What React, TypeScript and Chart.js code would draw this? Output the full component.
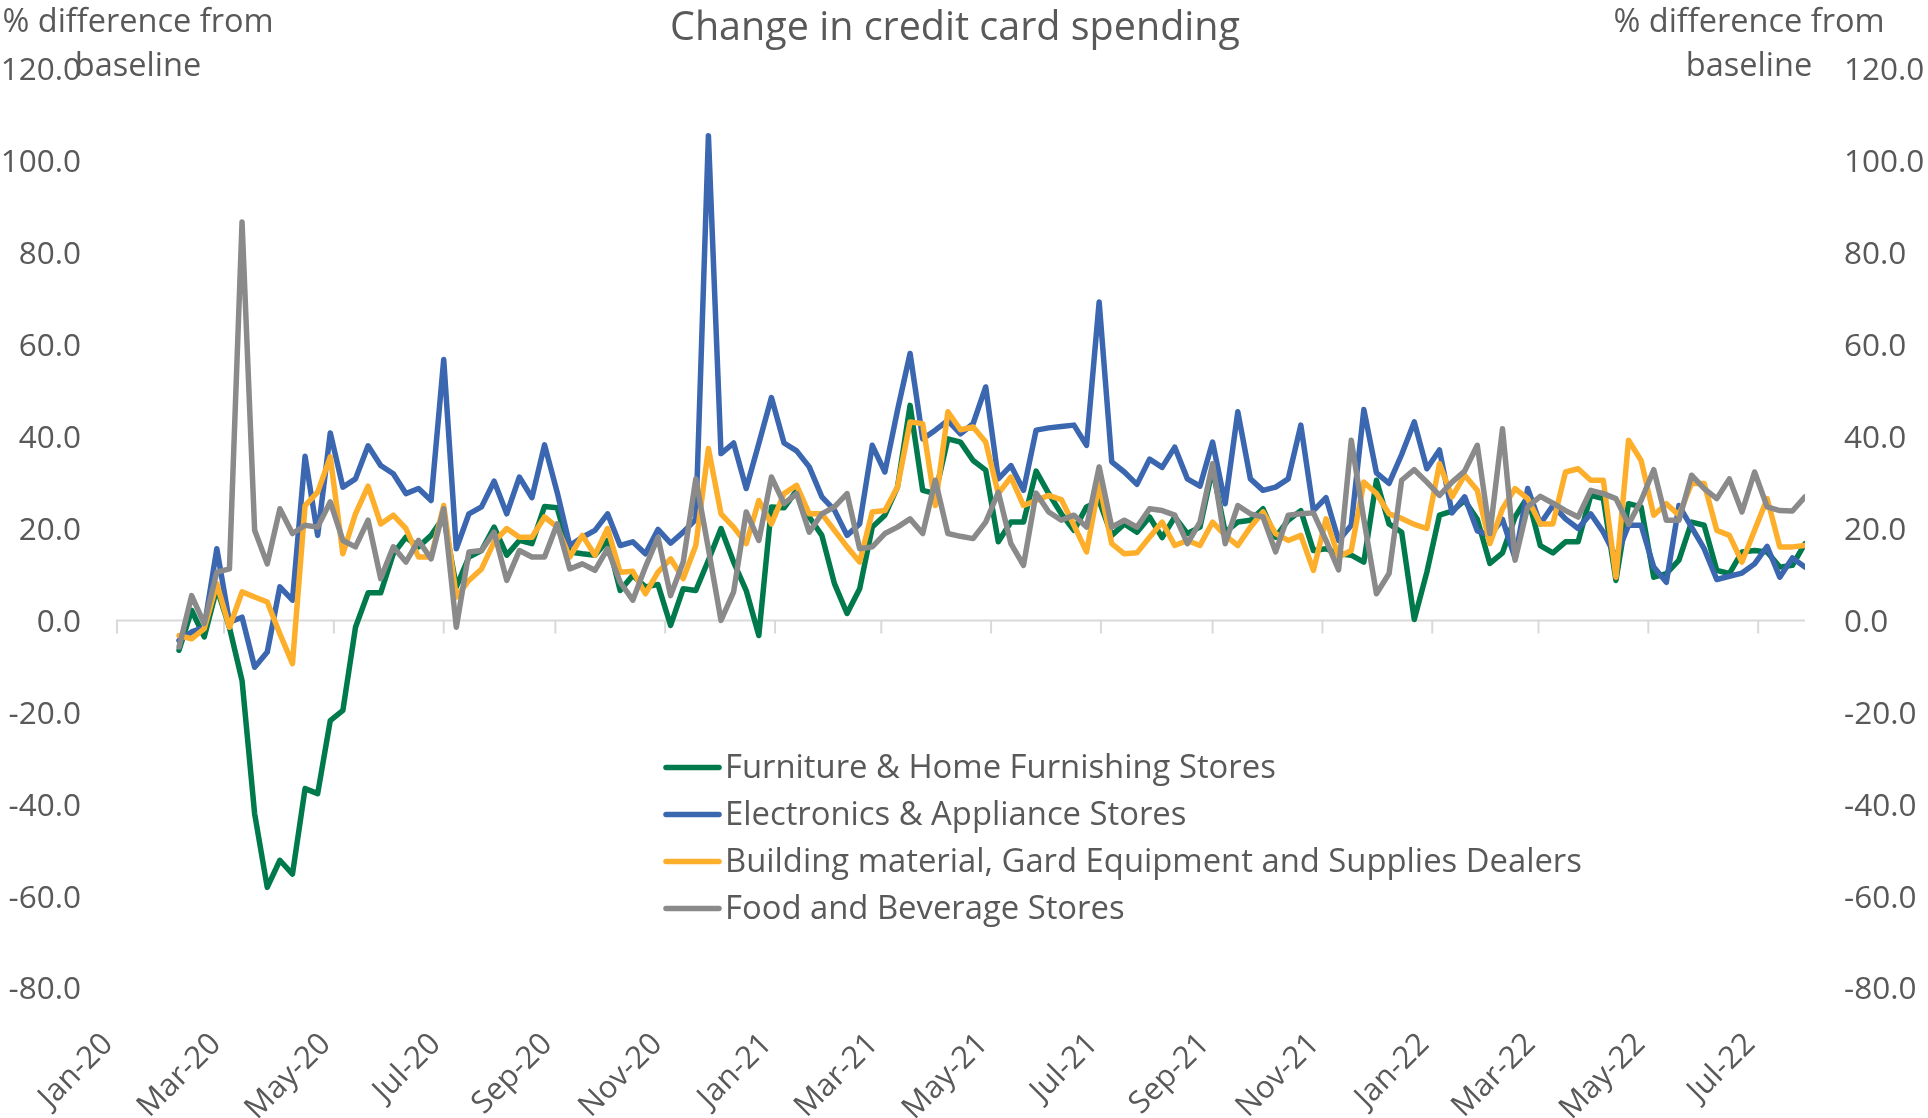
import { useEffect, useRef } from "react";
import { Chart, registerables } from "chart.js";

Chart.register(...registerables);

const TITLE = "Change in credit card spending";
const AXIS_TITLE = ["% difference from", "baseline"];
const FIRST_WEEK = "2020-02-05";
const AXIS_START = "2020-01-01";

const X_TICK_DATES = [
  "2020-01-01", "2020-03-01", "2020-05-01", "2020-07-01", "2020-09-01", "2020-11-01",
  "2021-01-01", "2021-03-01", "2021-05-01", "2021-07-01", "2021-09-01", "2021-11-01",
  "2022-01-01", "2022-03-01", "2022-05-01", "2022-07-01",
];
const X_TICK_LABELS = [
  "Jan-20", "Mar-20", "May-20", "Jul-20", "Sep-20", "Nov-20",
  "Jan-21", "Mar-21", "May-21", "Jul-21", "Sep-21", "Nov-21",
  "Jan-22", "Mar-22", "May-22", "Jul-22",
];
const Y_MIN = -80;
const Y_MAX = 120;
const Y_STEP = 20;

const SERIES_NAMES = [
  "Furniture & Home Furnishing Stores",
  "Electronics & Appliance Stores",
  "Building material, Gard Equipment and Supplies Dealers",
  "Food and Beverage Stores",
];
const SERIES_COLORS = ["#007A4D", "#3B66B0", "#FDAF2B", "#8A8A8A"];

const furniture = [
  -6.5, 2.2, -3.6, 7.0, -1.5, -13.1, -42.1, -58.1, -52.2, -55.2,
  -36.6, -37.7, -21.8, -19.6, -1.5, 6.0, 6.0, 14.5, 18.1, 16.0,
  18.5, 22.5, 7.3, 13.8, 15.2, 20.3, 14.2, 17.4, 16.7, 24.8,
  24.5, 14.9, 14.5, 14.2, 17.4, 6.5, 9.8, 7.3, 7.8, -1.1,
  6.9, 6.5, 13.1, 20.0, 12.7, 6.5, -3.3, 24.7, 24.5, 28.3,
  22.5, 18.5, 8.0, 1.5, 6.9, 20.3, 22.9, 29.0, 46.8, 28.3,
  27.6, 39.5, 38.8, 34.8, 32.7, 17.1, 21.4, 21.4, 32.5, 27.6,
  23.2, 19.6, 24.7, 26.0, 18.5, 21.0, 19.2, 22.5, 18.0, 22.5,
  18.9, 20.3, 33.0, 19.2, 21.4, 21.8, 24.3, 18.1, 21.8, 23.9,
  15.2, 15.6, 14.5, 14.2, 12.7, 30.5, 21.0, 19.2, 0.2, 10.5,
  22.9, 23.8, 26.1, 22.0, 12.4, 14.7, 22.5, 26.9, 16.3, 14.7,
  17.1, 17.1, 27.2, 26.5, 8.7, 25.4, 24.7, 9.4, 10.2, 13.1,
  21.4, 20.7, 10.9, 10.2, 14.9, 15.2, 14.9, 11.6, 12.0, 16.7,
];

const electronics = [
  -4.4, -2.5, -1.5, 15.6, -0.4, 0.7, -10.2, -6.9, 7.3, 4.4,
  35.7, 18.5, 40.8, 29.0, 30.8, 38.0, 33.7, 31.9, 27.6, 28.7,
  26.1, 56.8, 15.6, 23.2, 24.7, 30.3, 23.2, 31.2, 26.7, 38.2,
  27.9, 16.3, 18.1, 19.6, 23.2, 16.3, 17.1, 14.5, 19.8, 16.8,
  19.2, 22.0, 105.5, 36.3, 38.6, 28.7, 38.5, 48.5, 38.6, 36.9,
  33.4, 26.9, 24.0, 18.5, 21.0, 38.1, 32.3, 45.7, 58.1, 39.5,
  41.4, 43.5, 40.6, 42.8, 50.8, 30.8, 33.7, 28.3, 41.4, 41.9,
  42.2, 42.5, 38.1, 69.3, 34.5, 32.3, 29.6, 35.1, 33.3, 37.7,
  30.8, 29.2, 38.8, 25.4, 45.4, 30.8, 28.3, 29.0, 30.8, 42.5,
  23.9, 26.7, 17.4, 20.7, 45.9, 32.1, 29.8, 36.1, 43.2, 33.0,
  37.1, 23.4, 26.9, 19.5, 18.5, 22.0, 13.5, 28.7, 21.0, 25.0,
  22.1, 20.0, 23.2, 19.2, 13.8, 20.7, 20.7, 11.6, 8.3, 25.0,
  20.3, 15.6, 8.9, 9.6, 10.3, 12.3, 16.1, 9.4, 13.6, 11.6,
];

const building = [
  -3.3, -4.0, -1.8, 8.0, -1.5, 6.2, 5.1, 4.0, -2.9, -9.4,
  25.0, 27.9, 35.6, 14.5, 23.2, 29.2, 21.0, 22.9, 20.0, 13.8,
  13.8, 25.0, 5.1, 8.7, 11.2, 17.1, 20.0, 18.1, 18.1, 22.5,
  20.3, 13.8, 18.5, 14.2, 20.0, 10.5, 10.7, 5.8, 10.5, 13.4,
  9.1, 16.3, 37.4, 23.2, 20.3, 16.7, 26.1, 21.0, 27.6, 29.4,
  23.2, 23.2, 19.6, 16.0, 12.7, 23.6, 23.9, 29.0, 43.2, 42.8,
  25.0, 45.4, 41.5, 42.1, 38.8, 27.6, 31.2, 25.0, 26.1, 27.2,
  26.3, 20.7, 14.9, 29.8, 16.7, 14.5, 14.7, 18.1, 21.4, 16.3,
  17.4, 16.3, 21.4, 18.5, 16.3, 20.3, 23.6, 18.9, 17.4, 18.5,
  10.9, 22.1, 13.8, 15.2, 30.1, 27.6, 23.2, 22.2, 20.9, 20.0,
  34.1, 26.9, 31.6, 28.3, 16.7, 24.3, 28.7, 26.5, 21.0, 21.0,
  32.3, 33.0, 30.5, 30.5, 9.4, 39.2, 34.8, 22.9, 25.4, 22.9,
  29.8, 29.8, 19.6, 18.5, 12.7, 19.6, 26.5, 16.0, 16.0, 16.3,
];

const food = [
  -5.8, 5.4, -0.7, 10.5, 11.2, 86.7, 19.6, 12.3, 24.3, 18.9,
  20.7, 20.3, 25.8, 17.4, 16.0, 21.8, 9.1, 16.0, 12.7, 17.4,
  13.4, 24.3, -1.5, 14.9, 15.2, 19.2, 8.7, 15.2, 13.8, 13.8,
  21.0, 11.2, 12.3, 10.9, 15.6, 8.3, 4.4, 11.6, 18.1, 5.4,
  12.7, 30.8, 15.6, 0.0, 6.2, 23.6, 17.4, 31.2, 25.4, 27.6,
  19.2, 23.2, 24.7, 27.6, 15.6, 16.0, 18.9, 20.3, 22.1, 18.9,
  30.5, 18.9, 18.3, 17.8, 21.4, 27.9, 16.7, 12.0, 27.7, 23.6,
  21.8, 22.9, 20.3, 33.4, 20.3, 21.8, 20.3, 24.3, 23.9, 22.9,
  16.7, 21.4, 34.1, 16.7, 25.0, 23.2, 22.5, 14.9, 22.9, 23.2,
  23.4, 17.4, 11.0, 39.2, 22.0, 5.8, 10.2, 30.5, 32.8, 30.1,
  27.2, 30.1, 32.5, 38.1, 18.9, 41.7, 13.1, 24.7, 27.0, 25.5,
  23.9, 22.5, 28.3, 27.6, 26.5, 20.9, 26.1, 32.8, 21.8, 21.8,
  31.6, 28.7, 26.5, 30.8, 23.6, 32.3, 24.7, 23.9, 23.8, 26.9,
];

const SERIES = [furniture, electronics, building, food];

const FONT = "'Open Sans', 'Noto Sans', sans-serif";
const TEXT_COLOR = "#595959";
const AXIS_COLOR = "#D9D9D9";
const LINE_WIDTH = 5.5;

const dayOf = (d: string) => Math.round((Date.parse(d) - Date.parse(AXIS_START)) / 86400000);
const firstDay = dayOf(FIRST_WEEK);
const weekDays = (n: number) => Array.from({ length: n }, (_, i) => firstDay + 7 * i);

const decor = {
  id: "decor",
  beforeDatasetsDraw(chart: any) {
    const { ctx, scales } = chart;
    const x = scales.x;
    const y = scales.y;
    const y0 = y.getPixelForValue(0);
    ctx.save();
    ctx.strokeStyle = AXIS_COLOR;
    ctx.lineWidth = 2;
    ctx.beginPath();
    ctx.moveTo(x.left, y0);
    ctx.lineTo(x.right, y0);
    x.ticks.forEach((t: any) => {
      const px = Math.max(x.left + 1, x.getPixelForValue(t.value));
      ctx.moveTo(px, y0);
      ctx.lineTo(px, y0 + 13);
    });
    ctx.stroke();
    ctx.restore();
  },
  afterDraw(chart: any) {
    const { ctx, chartArea, width } = chart;
    ctx.save();
    ctx.fillStyle = TEXT_COLOR;
    // title
    ctx.font = `39.5px ${FONT}`;
    ctx.textAlign = "center";
    ctx.textBaseline = "alphabetic";
    ctx.fillText(TITLE, (chartArea.left + chartArea.right) / 2 - 5.5, 40);
    // axis titles
    ctx.font = `32.5px ${FONT}`;
    const leftC = 138;
    const rightC = width - 179;
    AXIS_TITLE.forEach((line, i) => {
      ctx.fillText(line, leftC, 32 + i * 44);
      ctx.fillText(line, rightC, 32 + i * 44);
    });
    // legend
    ctx.font = `32.8px ${FONT}`;
    ctx.textAlign = "left";
    ctx.textBaseline = "middle";
    const lx0 = 666;
    const lx1 = 719;
    const ly0 = 767.5;
    const dy = 47;
    SERIES_NAMES.forEach((name, i) => {
      const yy = ly0 + i * dy;
      ctx.strokeStyle = SERIES_COLORS[i];
      ctx.lineWidth = LINE_WIDTH;
      ctx.lineCap = "round";
      ctx.beginPath();
      ctx.moveTo(lx0, yy);
      ctx.lineTo(lx1, yy);
      ctx.stroke();
      ctx.fillStyle = TEXT_COLOR;
      ctx.fillText(name, 725, yy + 1);
    });
    ctx.restore();
  },
};

export default function App() {
  const ref = useRef<HTMLCanvasElement | null>(null);

  useEffect(() => {
    if (!ref.current) return;
    const days = weekDays(furniture.length);
    const tickDays = X_TICK_DATES.map(dayOf);
    const orders = [4, 3, 2, 1];
    const yTicks = (padding: number) => ({
      stepSize: Y_STEP,
      padding,
      labelOffset: 2.5,
      color: TEXT_COLOR,
      font: { family: FONT, size: 31.5 },
      callback: (v: any) => Number(v).toFixed(1),
    });
    const chart = new Chart(ref.current, {
      type: "line",
      data: {
        datasets: SERIES.map((vals, si) => ({
          label: SERIES_NAMES[si],
          data: vals.map((v, i) => ({ x: days[i], y: v })),
          borderColor: SERIES_COLORS[si],
          backgroundColor: SERIES_COLORS[si],
          borderWidth: LINE_WIDTH,
          pointRadius: 0,
          pointHoverRadius: 0,
          tension: 0,
          borderJoinStyle: "round" as const,
          borderCapStyle: "round" as const,
          order: orders[si],
          yAxisID: "y",
        })),
      },
      options: {
        responsive: false,
        animation: false,
        events: [],
        layout: { padding: { top: 69, left: 0, right: 0, bottom: 0 } },
        plugins: {
          legend: { display: false },
          title: { display: false },
          tooltip: { enabled: false },
        },
        scales: {
          x: {
            type: "linear",
            min: 0,
            max: days[days.length - 1],
            grid: { display: false, drawTicks: false },
            border: { display: false },
            ticks: {
              autoSkip: false,
              minRotation: 45,
              maxRotation: 45,
              padding: 38,
              labelOffset: -8,
              color: TEXT_COLOR,
              font: { family: FONT, size: 31 },
              callback: (_v: any, i: number) => X_TICK_LABELS[i],
            },
            afterBuildTicks: (s: any) => {
              s.ticks = tickDays.map((v) => ({ value: v }));
            },
            afterFit: (s: any) => {
              s.height = 130;
              s.paddingLeft = 0;
              s.paddingRight = 0;
            },
          },
          y: {
            type: "linear",
            position: "left",
            min: Y_MIN,
            max: Y_MAX,
            grid: { display: false, drawTicks: false },
            border: { display: false },
            ticks: yTicks(35),
            afterFit: (s: any) => {
              s.width = 116;
              s.paddingTop = 0;
              s.paddingBottom = 0;
            },
          },
          y2: {
            type: "linear",
            position: "right",
            min: Y_MIN,
            max: Y_MAX,
            grid: { display: false, drawTicks: false },
            border: { display: false },
            ticks: yTicks(39),
            afterFit: (s: any) => {
              s.width = 123;
              s.paddingTop = 0;
              s.paddingBottom = 0;
            },
          },
        },
      },
      plugins: [decor],
    });
    return () => chart.destroy();
  }, []);

  return (
    <div style={{ position: "fixed", left: 0, top: 0, width: 1928, height: 1118, background: "#fff" }}>
      <canvas ref={ref} width={1928} height={1118} style={{ display: "block", width: 1928, height: 1118 }} />
    </div>
  );
}
